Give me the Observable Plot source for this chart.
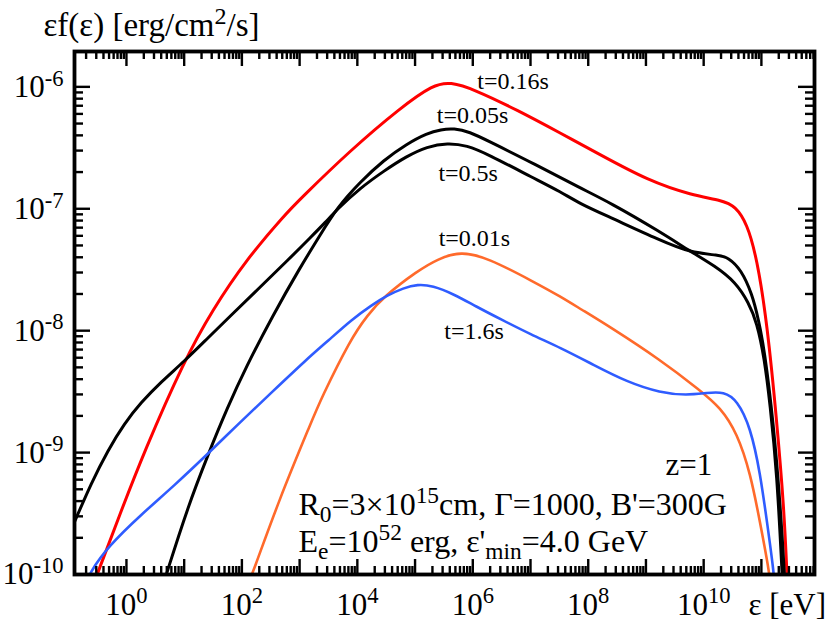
<!DOCTYPE html>
<html><head><meta charset="utf-8">
<script src="https://cdn.jsdelivr.net/npm/d3@7"></script>
<script src="https://cdn.jsdelivr.net/npm/@observablehq/plot@0.6"></script>
<style>
html,body{margin:0;padding:0;background:#fff;}
#chart{width:830px;height:626px;}
</style>
</head><body><div id="chart"></div>
<script>
// ---- data (log10 of photon energy in eV, log10 of εf(ε) in erg/cm²/s) ----
const seriesNames = ["t=0.01s", "t=0.05s", "t=0.16s", "t=0.5s", "t=1.6s"];
const seriesColors = ["#ff6a2b", "#000000", "#ff0000", "#000000", "#2f5cff"];
const seriesWidths = [2.6, 3, 3, 3, 2.6];

const logE_t001 = [2.10, 2.18, 2.64, 3.22, 3.36, 3.88, 4.18, 4.46, 5.04, 5.40, 5.79, 6.25, 7.06, 7.52, 7.86, 8.38, 9.25, 9.94, 10.29, 10.58, 10.81, 10.98, 11.13, 11.16];
const logF_t001 = [-10.08, -10.0, -9.39, -8.73, -8.57, -8.07, -7.87, -7.72, -7.51, -7.41, -7.35, -7.40, -7.60, -7.72, -7.82, -7.97, -8.24, -8.49, -8.63, -8.84, -9.17, -9.58, -9.96, -10.1];

const logE_t005 = [0.60, 0.69, 1.06, 1.41, 1.75, 2.07, 2.53, 3.01, 3.35, 3.65, 4.05, 4.46, 4.85, 5.21, 5.45, 5.67, 5.95, 6.25, 7.06, 7.86, 8.38, 9.25, 9.77, 10.20, 10.55, 10.78, 10.92, 11.05, 11.15, 11.27, 11.36, 11.38];
const logF_t005 = [-10.14, -10.0, -9.45, -9.02, -8.63, -8.30, -7.88, -7.48, -7.22, -6.99, -6.78, -6.60, -6.47, -6.38, -6.35, -6.34, -6.37, -6.44, -6.63, -6.83, -6.95, -7.19, -7.35, -7.47, -7.60, -7.77, -7.93, -8.22, -8.60, -9.17, -10.0, -10.2];

const logE_t016 = [-0.55, -0.51, -0.10, 0.30, 1.005, 1.49, 2.07, 2.76, 3.01, 3.88, 4.75, 5.32, 5.61, 6.02, 6.77, 7.52, 8.18, 9.04, 9.80, 10.32, 10.55, 10.75, 10.92, 11.10, 11.27, 11.39, 11.44, 11.46];
const logF_t016 = [-10.06, -10.0, -9.49, -9.0, -8.24, -7.83, -7.42, -7.04, -6.92, -6.52, -6.17, -5.98, -5.96, -6.02, -6.19, -6.38, -6.55, -6.77, -6.89, -6.93, -6.98, -7.12, -7.40, -7.94, -8.76, -9.45, -9.96, -10.2];

const logE_t05 = [-0.95, -0.90, -0.61, -0.32, -0.035, 0.25, 0.60, 1.005, 1.41, 1.80, 2.30, 2.80, 3.20, 3.45, 3.66, 4.05, 4.46, 4.85, 5.21, 5.56, 5.90, 6.25, 7.06, 7.52, 7.86, 8.38, 9.25, 9.77, 10.26, 10.43, 10.65, 10.84, 10.95, 11.05, 11.21, 11.33, 11.40, 11.42];
const logF_t05 = [-9.62, -9.57, -9.25, -8.98, -8.76, -8.59, -8.42, -8.25, -8.06, -7.88, -7.65, -7.42, -7.23, -7.11, -7.00, -6.83, -6.69, -6.57, -6.49, -6.46, -6.48, -6.55, -6.75, -6.86, -6.96, -7.07, -7.26, -7.36, -7.38, -7.40, -7.50, -7.70, -7.91, -8.15, -8.76, -9.45, -10.0, -10.2];

const logE_t16 = [-0.68, -0.64, -0.32, 0.25, 0.83, 1.41, 1.95, 2.53, 3.11, 3.50, 3.90, 4.25, 4.52, 4.80, 5.04, 5.30, 5.67, 6.05, 6.50, 7.0, 7.52, 8.09, 8.67, 9.25, 9.71, 10.06, 10.35, 10.58, 10.81, 10.98, 11.10, 11.21, 11.24];
const logF_t16 = [-10.06, -9.99, -9.77, -9.51, -9.27, -9.01, -8.76, -8.50, -8.24, -8.08, -7.91, -7.79, -7.71, -7.65, -7.62, -7.63, -7.70, -7.80, -7.91, -8.03, -8.14, -8.28, -8.42, -8.51, -8.53, -8.51, -8.50, -8.57, -8.79, -9.17, -9.58, -9.96, -10.15];

// curve label offsets relative to each curve's peak (pixels)
const labelDx = [-22, -17, 27, -9, 27];
const labelDy = [-5, -5, 7, 38, 55];

// axes
const xLabelTicks = [1, 1e2, 1e4, 1e6, 1e8, 1e10];
const yLabelTicks = [1e-10, 1e-9, 1e-8, 1e-7, 1e-6];
const xDecadeExps = [-1, 0, 1, 2, 3, 4, 5, 6, 7, 8, 9, 10, 11];
const yDecadeExps = [-10, -9, -8, -7, -6];
const xDomain = [10 ** -0.9, 10 ** 11.92];
const yDomain = [1e-10, 10 ** -5.71];

const titleText = "εf(ε) [erg/cm^{2}/s]";
const xLabelText = "ε [eV]";
const noteLine1 = "R_{0}=3×10^{15}cm, Γ=1000, B'=300G";
const noteLine2 = "E_{e}=10^{52} erg, ε'_{min}=4.0 GeV";
const noteZ = "z=1";

// ---- build tables ----
const logEs = [logE_t001, logE_t005, logE_t016, logE_t05, logE_t16];
const logFs = [logF_t001, logF_t005, logF_t016, logF_t05, logF_t16];
const series = seriesNames.map((name, i) => ({
  name, color: seriesColors[i], width: seriesWidths[i],
  rows: logEs[i].map((le, j) => ({e: 10 ** le, f: 10 ** logFs[i][j], t: name}))
}));

const inRange = (v, d) => v >= d[0] && v <= d[1];
const xMajor = xDecadeExps.map(k => 10 ** k).filter(v => inRange(v, xDomain));
const xMinor = xDecadeExps.flatMap(k => [2,3,4,5,6,7,8,9].map(m => m * 10 ** k)).filter(v => inRange(v, xDomain));
const yMajor = yDecadeExps.map(k => 10 ** k).filter(v => inRange(v, yDomain));
const yMinor = yDecadeExps.flatMap(k => [2,3,4,5,6,7,8,9].map(m => m * 10 ** k)).filter(v => inRange(v, yDomain));

const W = 830, H = 626, mL = 74, mR = 16, mT = 51, mB = 52;
const iW = W - mL - mR, iH = H - mT - mB;
const font = "Liberation Serif";
const expFmt = d => "10^{" + Math.round(Math.log10(d)) + "}";

const marks = [];
for (const s of series) {
  marks.push(Plot.line(s.rows, {x: "e", y: "f", stroke: s.color, strokeWidth: s.width, curve: "basis", clip: true}));
}
const tw = 2.4;
marks.push(
  Plot.ruleX(xMajor, {x: d => d, insetTop: iH - 15, strokeWidth: tw}),
  Plot.ruleX(xMajor, {x: d => d, insetBottom: iH - 15, strokeWidth: tw}),
  Plot.ruleX(xMinor, {x: d => d, insetTop: iH - 8, strokeWidth: tw}),
  Plot.ruleX(xMinor, {x: d => d, insetBottom: iH - 8, strokeWidth: tw}),
  Plot.ruleY(yMajor, {y: d => d, insetRight: iW - 16, strokeWidth: tw}),
  Plot.ruleY(yMajor, {y: d => d, insetLeft: iW - 16, strokeWidth: tw}),
  Plot.ruleY(yMinor, {y: d => d, insetRight: iW - 9, strokeWidth: tw}),
  Plot.ruleY(yMinor, {y: d => d, insetLeft: iW - 9, strokeWidth: tw}),
  Plot.frame({strokeWidth: 3.8}),
  Plot.axisX({ticks: xLabelTicks, tickFormat: expFmt, tickSize: 0, tickPadding: 18, fontSize: 31, label: null}),
  Plot.axisY({ticks: yLabelTicks, tickFormat: expFmt, tickSize: 0, tickPadding: 11, fontSize: 31, label: null})
);
series.forEach((s, i) => {
  const peak = d3.greatest(s.rows, d => d.f);
  marks.push(Plot.text([peak], {x: "e", y: "f", text: () => s.name, dx: labelDx[i], dy: labelDy[i], textAnchor: "start", lineAnchor: "bottom", fontSize: 24}));
});
marks.push(
  Plot.text([titleText], {text: d => d, frameAnchor: "top-left", dx: -31, dy: -16, textAnchor: "start", lineAnchor: "bottom", fontSize: 33}),
  Plot.text([xLabelText], {text: d => d, frameAnchor: "bottom-right", dx: -66, dy: 40, textAnchor: "start", lineAnchor: "bottom", fontSize: 31}),
  Plot.text([noteZ], {text: d => d, frameAnchor: "bottom-left", dx: 591, dy: -100, textAnchor: "start", lineAnchor: "bottom", fontSize: 31}),
  Plot.text([noteLine1], {text: d => d, frameAnchor: "bottom-left", dx: 224, dy: -60, textAnchor: "start", lineAnchor: "bottom", fontSize: 32}),
  Plot.text([noteLine2], {text: d => d, frameAnchor: "bottom-left", dx: 224, dy: -23, textAnchor: "start", lineAnchor: "bottom", fontSize: 32})
);

const chart = Plot.plot({
  width: W, height: H,
  marginLeft: mL, marginRight: mR, marginTop: mT, marginBottom: mB,
  style: {fontFamily: font, background: "#fff", color: "#000"},
  x: {type: "log", domain: xDomain},
  y: {type: "log", domain: yDomain},
  marks
});
document.getElementById("chart").appendChild(chart);

// convert ^{...} and _{...} into raised / lowered tspans
function richify(svg) {
  svg.querySelectorAll("text").forEach(t => {
    const s = t.textContent;
    if (!/[\^_]\{/.test(s)) return;
    const fs = parseFloat(getComputedStyle(t).fontSize) || 31;
    while (t.firstChild) t.removeChild(t.firstChild);
    const re = /([\^_])\{([^}]*)\}/g;
    let last = 0, m, shift = 0;
    const add = (str, kind) => {
      const ts = document.createElementNS("http://www.w3.org/2000/svg", "tspan");
      ts.textContent = str;
      const target = kind === "^" ? -0.36 * fs : kind === "_" ? 0.22 * fs : 0;
      const d = target - shift;
      if (Math.abs(d) > 0.01) ts.setAttribute("dy", d.toFixed(2));
      shift = target;
      if (kind) ts.setAttribute("font-size", (0.73 * fs).toFixed(1));
      t.appendChild(ts);
    };
    while ((m = re.exec(s))) {
      if (m.index > last) add(s.slice(last, m.index), null);
      add(m[2], m[1]);
      last = re.lastIndex;
    }
    if (last < s.length) add(s.slice(last), null);
  });
}
richify(chart);
</script>
</body></html>
